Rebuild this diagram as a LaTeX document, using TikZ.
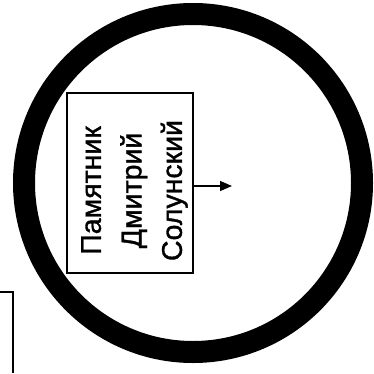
\documentclass[tikz,border=0pt]{standalone}
\usepackage{fontspec}
\setmainfont{Liberation Sans}
\newfontfamily\lblfont[FakeBold=1.2]{Liberation Sans}
\usetikzlibrary{arrows.meta}
\begin{document}
\begin{tikzpicture}[x=1pt,y=1pt,
  ring/.style={draw=black,line width=22pt},
  monbox/.style={draw=black,fill=white,line width=1.2pt,minimum width=126pt,minimum height=180pt,inner sep=0pt},
  lbltext/.style={rotate=90,align=center,font=\lblfont\fontsize{28.5}{40.5}\selectfont,inner sep=0pt},
  conn/.style={line width=1.3pt,-{Triangle[length=12pt,width=10pt]}},
  frame/.style={line width=1.5pt}]
\useasboundingbox (0,0) rectangle (374,373);
\node[ring,circle,minimum size=338pt,inner sep=0pt] (ring) at (193,190) {};
\node[monbox] (box) at (130,190) {};
\node[lbltext] (lbl) at (134.5,182.5) {Памятник\\Дмитрий\\Солунский};
\coordinate (tip) at (232,187);
\draw[conn] (box.east |- tip) -- (tip);
\coordinate (f1) at (0,81);
\coordinate (f2) at (13,81);
\coordinate (f3) at (13,0);
\draw[frame] (f1) -- (f2) -- (f3);
\end{tikzpicture}
\end{document}
